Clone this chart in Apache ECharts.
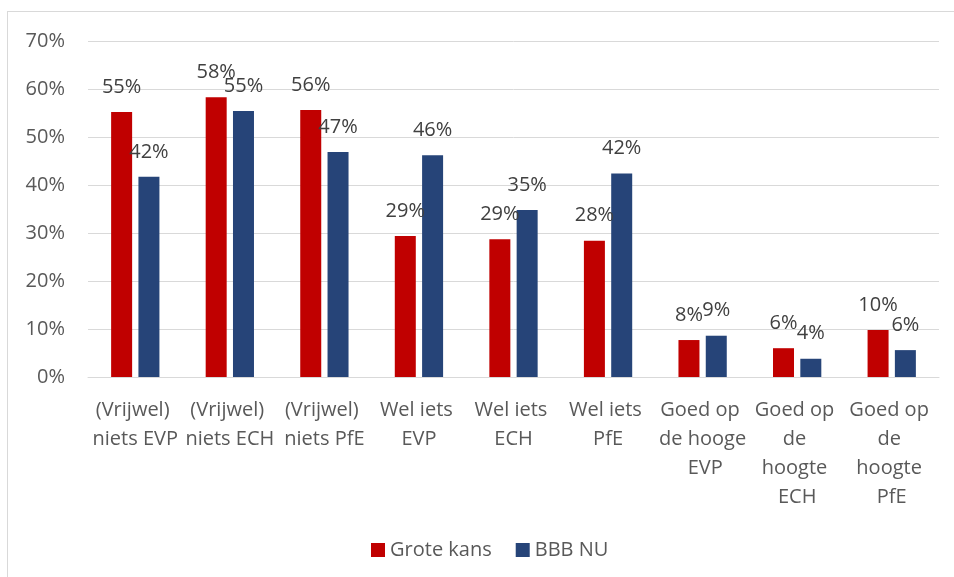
<!DOCTYPE html>
<html>
<head>
<meta charset="utf-8">
<title>Grote kans / BBB NU</title>
<script src="https://cdn.jsdelivr.net/npm/echarts@6/dist/echarts.min.js"></script>
<style>
    html, body { margin: 0; padding: 0; background: #fff; }
    #frame {
        position: absolute; left: 7px; top: 11px;
        width: 947px; height: 566px;
        border-left: 1px solid #d9d9d9; border-top: 1px solid #d9d9d9;
    }
    #container { width: 947px; height: 566px; }
</style>
</head>
<body>
<div id="frame"><div id="container"></div></div>
<script>
    // data (percent)
    var categories = [
        '(Vrijwel) niets EVP', '(Vrijwel) niets ECH', '(Vrijwel) niets PfE',
        'Wel iets EVP', 'Wel iets ECH', 'Wel iets PfE',
        'Goed op de hooge EVP', 'Goed op de hoogte ECH', 'Goed op de hoogte PfE'
    ];
    var groteKans = [55.2, 58.3, 55.6, 29.4, 28.7, 28.4, 7.7, 6.0, 9.8];
    var bbbNu = [41.7, 55.4, 46.9, 46.2, 34.8, 42.4, 8.6, 3.8, 5.6];
    var yTicks = [0, 10, 20, 30, 40, 50, 60, 70];

    var font = "'Open Sans', sans-serif";
    var textColor = '#595959';

    function loadCharts() {
        var myChart = echarts.init(document.getElementById('container'));

        var labelOpt = {
            show: true,
            position: 'top',
            distance: 15,
            color: '#404040',
            fontFamily: font,
            fontSize: 20,
            formatter: function (p) { return Math.round(p.value) + '%'; }
        };

        var option = {
            animation: false,
            grid: { left: 80, right: 16, top: 29, height: 336, containLabel: false },
            legend: {
                data: ['Grote kans', 'BBB NU'],
                left: 358,
                top: 523,
                itemWidth: 14,
                itemHeight: 14,
                itemGap: 24,
                icon: 'rect',
                textStyle: { color: textColor, fontFamily: font, fontSize: 20 }
            },
            xAxis: {
                type: 'category',
                data: categories,
                axisLine: { lineStyle: { color: '#d9d9d9', width: 1 } },
                axisTick: { show: false },
                axisLabel: {
                    interval: 0,
                    margin: 19,
                    width: 92,
                    overflow: 'break',
                    lineHeight: 29,
                    color: textColor,
                    fontFamily: font,
                    fontSize: 20
                }
            },
            yAxis: {
                type: 'value',
                min: yTicks[0],
                max: yTicks[yTicks.length - 1],
                interval: 10,
                axisLine: { show: false },
                axisTick: { show: false },
                splitLine: { lineStyle: { color: '#d9d9d9', width: 1 } },
                axisLabel: {
                    margin: 23,
                    color: textColor,
                    fontFamily: font,
                    fontSize: 20,
                    formatter: '{value}%'
                }
            },
            series: [
                {
                    name: 'Grote kans',
                    type: 'bar',
                    data: groteKans,
                    barWidth: 21,
                    barGap: '30%',
                    itemStyle: { color: '#c00000' },
                    label: labelOpt
                },
                {
                    name: 'BBB NU',
                    type: 'bar',
                    data: bbbNu,
                    barWidth: 21,
                    barGap: '30%',
                    itemStyle: { color: '#264478' },
                    label: labelOpt
                }
            ]
        };
        myChart.setOption(option, true);
    }
    loadCharts();
</script>
</body>
</html>
